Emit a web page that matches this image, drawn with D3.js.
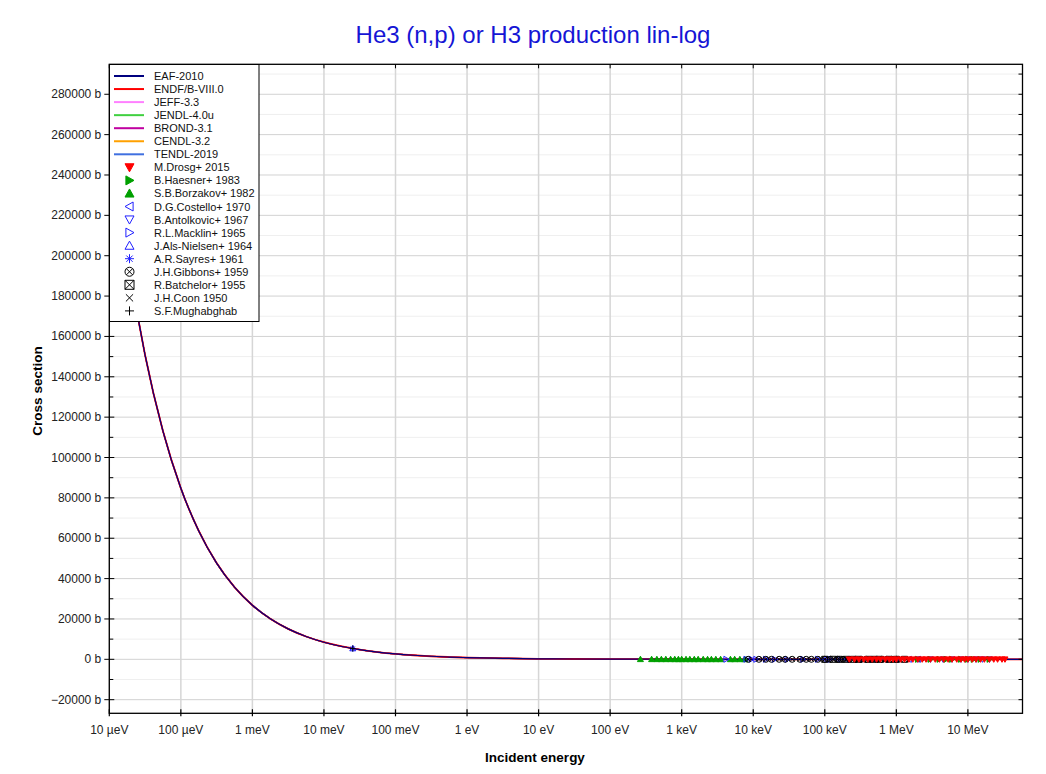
<!DOCTYPE html>
<html><head><meta charset="utf-8">
<script src="https://cdn.jsdelivr.net/npm/d3@7"></script>
<style>body{margin:0;background:#fff;}svg{font-family:"Liberation Sans",Arial,sans-serif;}</style>
</head><body><svg id="c" width="1046" height="774"></svg>
<script>
// ---- data ----
const evalNames = ["EAF-2010","ENDF/B-VIII.0","JEFF-3.3","JENDL-4.0u","BROND-3.1","CENDL-3.2","TENDL-2019"];
const evalColors = ["#00007f","#ff0000","#ff80ff","#40d040","#c000a0","#ffa000","#4070e0"];
const evalEnergy = [1e-5,1.78e-5,3.16e-5,5.62e-5,1e-4,1.78e-4,3.16e-4,5.62e-4,1e-3,1.78e-3,3.16e-3,5.62e-3,1e-2,1.78e-2,3.16e-2,5.62e-2,0.1,0.178,0.316,0.562,1,3.16,10,31.6,100,316,1e3,1e4,1e5,1e6,1e7,5.8e7];
const evalSigma = [268000,201000,150800,113100,84800,63600,47700,35800,26800,20100,15080,11310,8480,6360,4770,3580,2680,2010,1508,1131,848,477,268,151,85,48,27,8.7,3.0,0.9,0.3,0.05];

const expNames = ["M.Drosg+ 2015","B.Haesner+ 1983","S.B.Borzakov+ 1982","D.G.Costello+ 1970","B.Antolkovic+ 1967","R.L.Macklin+ 1965","J.Als-Nielsen+ 1964","A.R.Sayres+ 1961","J.H.Gibbons+ 1959","R.Batchelor+ 1955","J.H.Coon 1950","S.F.Mughabghab"];
const expSymbols = ["triDownFill","triRightFill","triUpFill","triLeft","triDown","triRight","triUp","aster","circX","squareX","cross","plus"];
const expColors = ["#ff0000","#00a000","#00a000","#2020ff","#2020ff","#2020ff","#2020ff","#2020ff","#000000","#000000","#000000","#000000"];
const drosgE = [2.2e5,2.6e5,3e5,3.5e5,4e5,4.6e5,5.3e5,6e5,7e5,8e5,9e5,1e6,1.15e6,1.3e6,1.5e6,1.7e6,2e6,2.3e6,2.6e6,3e6,3.5e6,4e6,4.6e6,5.3e6,6e6,7e6,8e6,9e6,1e7,1.15e7,1.3e7,1.5e7,1.7e7,2e7,2.3e7,2.6e7,3e7,3.3e7];
const drosgS = [2.6,2.4,2.2,2.0,1.9,1.7,1.6,1.5,1.4,1.3,1.2,1.1,1.0,0.95,0.9,0.85,0.8,0.75,0.7,0.65,0.6,0.55,0.5,0.46,0.42,0.38,0.34,0.3,0.27,0.24,0.21,0.19,0.17,0.15,0.13,0.12,0.1,0.09];
const haesnerE = [2e6,3e6,4e6,5e6,6e6,8e6,1e7,1.2e7,1.5e7,2e7];
const haesnerS = [0.8,0.7,0.6,0.55,0.5,0.42,0.36,0.3,0.25,0.2];
const borzakovE = [265,380,450,520,600,700,800,900,1000,1150,1300,1500,1700,2000,2300,2600,3000,3500,4800,5500,6500,7600];
const borzakovS = [52,44,40,37,34,31,29,27,26,24,22,21,19.5,18,16.8,15.8,14.6,13.5,11.6,10.8,9.9,9.1];
const costelloE = [1e5,1.5e5,2e5,3e5,4e5,5e5,7e5,1e6,1.5e6,2e6];
const costelloS = [2.9,2.5,2.2,1.9,1.7,1.5,1.3,1.1,0.95,0.85];
const antolkovicE = [2e6,3e6,4.5e6,6e6,8e6,1e7,1.3e7,1.6e7,2e7];
const antolkovicS = [0.8,0.7,0.6,0.5,0.42,0.36,0.3,0.26,0.2];
const macklinE = [4200,8000,9500,1.1e4,1.5e4,2e4,3e4,5e4,8e4,1.2e5];
const macklinS = [14,10,9.3,8.7,7.5,6.5,5.4,4.2,3.4,2.8];
const alsE = [0.0253];
const alsS = [5400];
const sayresE = [0.0253];
const sayresS = [5327];
const gibbonsE = [8.5e3,1.2e4,1.5e4,1.8e4,2.3e4,2.8e4,3.5e4,4.5e4,5.5e4,6.5e4,8e4,1e5,1.2e5,1.5e5,1.8e5,2.2e5,2.7e5,3.2e5,3.8e5,4.5e5,5.3e5,6.2e5,7.3e5,8.6e5,1e6];
const gibbonsS = [9.2,7.8,7.0,6.4,5.7,5.1,4.6,4.0,3.7,3.4,3.1,2.9,2.7,2.4,2.2,2.0,1.8,1.7,1.6,1.5,1.4,1.3,1.2,1.1,1.0];
const batchelorE = [1e5,1.3e5,1.6e5,2e5,2.5e5,3e5,4e5,5e5,6e5,8e5,1e6,1.3e6];
const batchelorS = [2.9,2.6,2.3,2.1,1.9,1.8,1.6,1.5,1.4,1.2,1.1,1.0];
const coonE = [3e5,4e5,5e5,7e5,1e6,1.4e6,2e6,2.5e6];
const coonS = [1.8,1.6,1.5,1.3,1.1,1.0,0.85,0.8];
const mughE = [0.0253];
const mughS = [5333];
const expData = [[drosgE,drosgS],[haesnerE,haesnerS],[borzakovE,borzakovS],[costelloE,costelloS],[antolkovicE,antolkovicS],[macklinE,macklinS],[alsE,alsS],[sayresE,sayresS],[gibbonsE,gibbonsS],[batchelorE,batchelorS],[coonE,coonS],[mughE,mughS]];

const xTickValues = [1e-5,1e-4,1e-3,1e-2,1e-1,1,10,100,1e3,1e4,1e5,1e6,1e7];
const xTickLabels = ["10 µeV","100 µeV","1 meV","10 meV","100 meV","1 eV","10 eV","100 eV","1 keV","10 keV","100 keV","1 MeV","10 MeV"];
const yTickValues = [-20000,0,20000,40000,60000,80000,100000,120000,140000,160000,180000,200000,220000,240000,260000,280000];

// ---- layout ----
const L=109.3, R=1022.5, T=64.3, B=713.3;
const svg = d3.select("#c");
const x = d3.scaleLog().domain([1e-5,5.8e7]).range([L,R]);
const y = d3.scaleLinear().domain([-26750,294850]).range([B,T]);

// grid
const yMinor = d3.range(-20000, 295000, 10000).filter(v=>v%20000!==0);
svg.append("g").selectAll("line").data(yMinor).join("line")
  .attr("x1",L).attr("x2",R).attr("y1",d=>y(d)).attr("y2",d=>y(d)).attr("stroke","#efefef").attr("stroke-width",1);
svg.append("g").selectAll("line").data(yTickValues).join("line")
  .attr("x1",L).attr("x2",R).attr("y1",d=>y(d)).attr("y2",d=>y(d)).attr("stroke","#d2d2d2").attr("stroke-width",1);
svg.append("g").selectAll("line").data(xTickValues).join("line")
  .attr("x1",d=>x(d)).attr("x2",d=>x(d)).attr("y1",T).attr("y2",B).attr("stroke","#d6d6d6").attr("stroke-width",1.5);

// clip
svg.append("clipPath").attr("id","clip").append("rect").attr("x",L).attr("y",T).attr("width",R-L).attr("height",B-T);
const plot = svg.append("g").attr("clip-path","url(#clip)");

function symbolPath(g, type, color, s){
  const h=s/2;
  const add=(d,fill)=>g.append("path").attr("d",d).attr("fill",fill?color:"none").attr("stroke",color).attr("stroke-width",1);
  switch(type){
    case "triDownFill": add(`M${-h},${-h*0.8}L${h},${-h*0.8}L0,${h}Z`,true);break;
    case "triRightFill": add(`M${-h*0.8},${-h}L${h},0L${-h*0.8},${h}Z`,true);break;
    case "triUpFill": add(`M${-h},${h*0.8}L${h},${h*0.8}L0,${-h}Z`,true);break;
    case "triLeft": add(`M${h*0.8},${-h}L${-h},0L${h*0.8},${h}Z`,false);break;
    case "triDown": add(`M${-h},${-h*0.8}L${h},${-h*0.8}L0,${h}Z`,false);break;
    case "triRight": add(`M${-h*0.8},${-h}L${h},0L${-h*0.8},${h}Z`,false);break;
    case "triUp": add(`M${-h},${h*0.8}L${h},${h*0.8}L0,${-h}Z`,false);break;
    case "aster": add(`M${-h},0L${h},0M0,${-h}L0,${h}M${-h*0.7},${-h*0.7}L${h*0.7},${h*0.7}M${-h*0.7},${h*0.7}L${h*0.7},${-h*0.7}`,false);break;
    case "circX": g.append("circle").attr("r",h).attr("fill","none").attr("stroke",color).attr("stroke-width",1);
      add(`M${-h*0.7},${-h*0.7}L${h*0.7},${h*0.7}M${-h*0.7},${h*0.7}L${h*0.7},${-h*0.7}`,false);break;
    case "squareX": add(`M${-h},${-h}H${h}V${h}H${-h}ZM${-h},${-h}L${h},${h}M${-h},${h}L${h},${-h}`,false);break;
    case "cross": add(`M${-h*0.8},${-h*0.8}L${h*0.8},${h*0.8}M${-h*0.8},${h*0.8}L${h*0.8},${-h*0.8}`,false);break;
    case "plus": add(`M${-h},0L${h},0M0,${-h}L0,${h}`,false);break;
  }
}

const line = d3.line().x(d=>x(d[0])).y(d=>y(d[1])).curve(d3.curveMonotoneX);
const evalPts = evalEnergy.map((e,i)=>[e,evalSigma[i]]);
for(let i=evalNames.length-1;i>=0;i--){
  plot.append("path").datum(evalPts).attr("d",line).attr("fill","none")
    .attr("stroke",evalColors[i]).attr("stroke-width", i===1?1.8:1.2);
}

const drawOrder=[2,5,3,6,9,8,10,4,1,0,7,11];
drawOrder.forEach(k=>{
  const [E,S]=expData[k];
  E.forEach((e,j)=>{
    const g=plot.append("g").attr("transform",`translate(${x(e)},${y(S[j])})`);
    symbolPath(g,expSymbols[k],expColors[k],6);
  });
});

svg.append("rect").attr("x",L).attr("y",T).attr("width",R-L).attr("height",B-T).attr("fill","none").attr("stroke","#000").attr("stroke-width",1.3);

const yAxisG=svg.append("g");
yTickValues.forEach(v=>{
  yAxisG.append("line").attr("x1",L-5).attr("x2",L+5).attr("y1",y(v)).attr("y2",y(v)).attr("stroke","#000");
  yAxisG.append("text").attr("x",L-8).attr("y",y(v)+4).attr("text-anchor","end").attr("font-size",12).attr("fill","#222").text(d3.format("d")(v)+" b");
});
yMinor.forEach(v=>{
  yAxisG.append("line").attr("x1",L).attr("x2",L+4).attr("y1",y(v)).attr("y2",y(v)).attr("stroke","#000");
});
d3.range(-20000,295000,10000).forEach(v=>{
  yAxisG.append("line").attr("x1",R-4).attr("x2",R).attr("y1",y(v)).attr("y2",y(v)).attr("stroke","#000");
});
const xAxisG=svg.append("g");
xTickValues.forEach((v,i)=>{
  xAxisG.append("line").attr("x1",x(v)).attr("x2",x(v)).attr("y1",B-4).attr("y2",B+3).attr("stroke","#000").attr("stroke-width",1.2);
  xAxisG.append("line").attr("x1",x(v)).attr("x2",x(v)).attr("y1",T).attr("y2",T+4).attr("stroke","#000");
  xAxisG.append("text").attr("x",x(v)).attr("y",B+21).attr("text-anchor","middle").attr("font-size",12).attr("fill","#222").text(xTickLabels[i]);
});

svg.append("text").attr("x",533).attr("y",43).attr("text-anchor","middle").attr("font-size",24).attr("fill","#1515d5").text("He3 (n,p) or H3 production lin-log");
svg.append("text").attr("x",535).attr("y",762).attr("text-anchor","middle").attr("font-size",13.5).attr("font-weight","bold").text("Incident energy");
svg.append("text").attr("transform","translate(42,391) rotate(-90)").attr("text-anchor","middle").attr("font-size",13.5).attr("font-weight","bold").text("Cross section");

const lg=svg.append("g");
lg.append("rect").attr("x",109.5).attr("y",64.5).attr("width",149.5).attr("height",257).attr("fill","#fff").attr("stroke","#000").attr("stroke-width",1);
const rowH=13.05, y0=76;
evalNames.forEach((n,i)=>{
  const yy=y0+i*rowH;
  lg.append("line").attr("x1",114).attr("x2",144).attr("y1",yy).attr("y2",yy).attr("stroke",evalColors[i]).attr("stroke-width",2);
  lg.append("text").attr("x",154).attr("y",yy+4).attr("font-size",11).attr("fill","#111").text(n);
});
expNames.forEach((n,i)=>{
  const yy=y0+(i+evalNames.length)*rowH;
  const g=lg.append("g").attr("transform",`translate(129.5,${yy})`);
  symbolPath(g,expSymbols[i],expColors[i],9);
  lg.append("text").attr("x",154).attr("y",yy+4).attr("font-size",11).attr("fill","#111").text(n);
});
</script></body></html>
